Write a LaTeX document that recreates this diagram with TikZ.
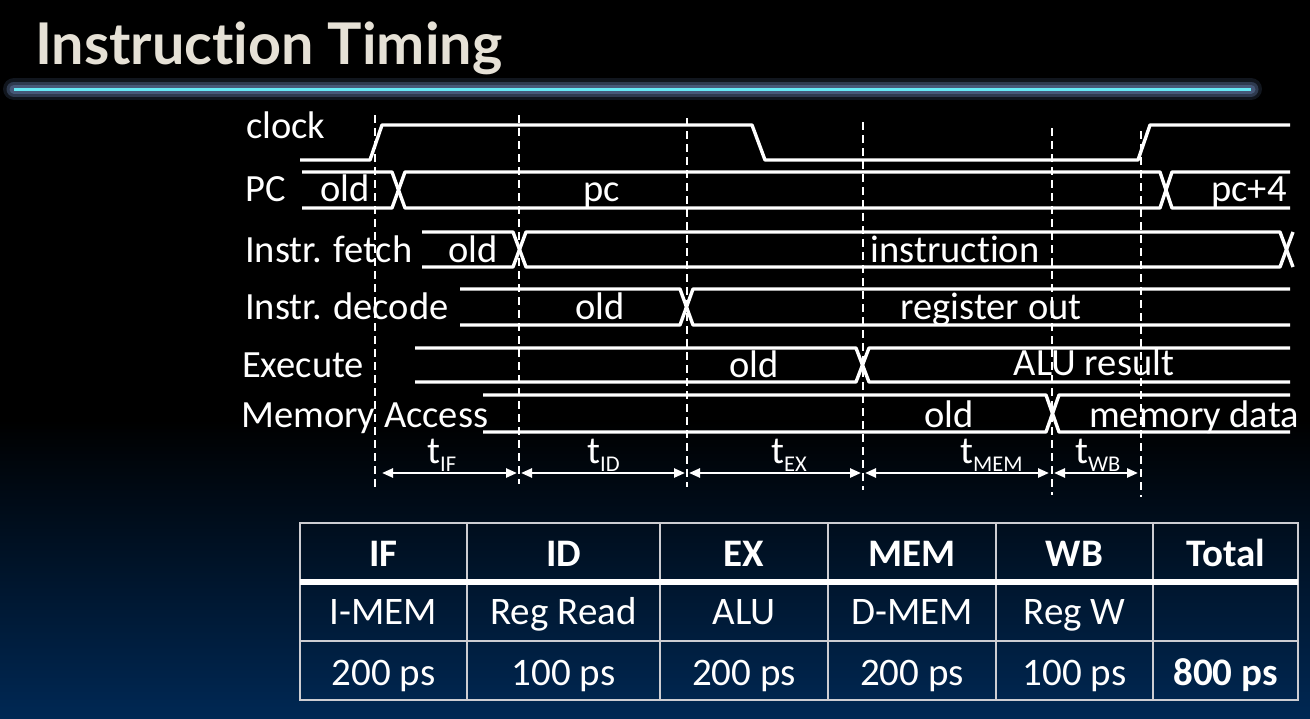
\documentclass[tikz,border=0pt]{standalone}
\usepackage{fontspec}
\setmainfont{Carlito}[Ligatures=NoCommon]
\newfontfamily\titlefont{Lato}[Ligatures=NoCommon]
\usetikzlibrary{arrows.meta}

\definecolor{navybot}{RGB}{0,40,84}
\definecolor{titlecol}{RGB}{230,225,214}
\definecolor{rulecyan}{RGB}{102,232,245}
\definecolor{ruleglow}{RGB}{70,88,120}
\definecolor{gridgray}{RGB}{205,205,210}

\newcommand{\lblfont}{\fontsize{38.5}{41}\selectfont}
\newcommand{\tabfont}{\fontsize{39}{41}\selectfont}
\newcommand{\subfont}{\fontsize{22.5}{24}\selectfont}
\newcommand{\tsub}[1]{t\raisebox{-8.5pt}{\subfont #1}}

\tikzset{
  sig/.style={white, line width=3.4pt, line join=round},
  guide/.style={white, line width=1.8pt, dash pattern=on 8pt off 5pt},
  span/.style={white, line width=2.4pt, {Triangle[length=11pt,width=9pt]}-{Triangle[length=11pt,width=9pt]}},
  lbl/.style={text=white, font=\lblfont, inner sep=0pt, anchor=base west},
  busval/.style={text=white, font=\lblfont, inner sep=0pt, anchor=base},
  tlbl/.style={text=white, font=\lblfont, inner sep=0pt, anchor=base west},
  cellhead/.style={text=white, font=\tabfont\bfseries, inner sep=0pt, anchor=base},
  cellbody/.style={text=white, font=\tabfont, inner sep=0pt, anchor=base},
  gridline/.style={gridgray, line width=1.8pt},
}

\begin{document}
\begin{tikzpicture}[x=1pt,y=-1pt]
\useasboundingbox (0,0) rectangle (1310,718);

% background: black slide fading to navy at the bottom
\fill[black] (0,0) rectangle (1310,718);
\shade[top color=black, bottom color=navybot] (0,420) rectangle (1310,718);

% title and glowing rule
\node[text=titlecol, inner sep=0pt, anchor=north west] (title) at (35,22)
  {\resizebox*{467pt}{53pt}{\titlefont\bfseries Instruction Timing}};
\coordinate (ruleL) at (14,89);
\coordinate (ruleR) at (1251,89);
\draw[ruleglow, line width=22pt, line cap=round, opacity=0.25] (ruleL) -- (ruleR);
\draw[ruleglow, line width=15pt, line cap=round, opacity=0.55] (ruleL) -- (ruleR);
\draw[ruleglow, line width=9pt, line cap=round] (ruleL) -- (ruleR);
\draw[rulecyan, line width=3pt] (ruleL) -- (ruleR);

% signal names
\node[lbl] (nclk) at (246,138) {clock};
\node[lbl] (npc)  at (245,201.5) {PC};
\node[lbl] (nif)  at (245,262) {Instr. fetch};
\node[lbl] (nid)  at (245,319.5) {Instr. decode};
\node[lbl] (nex)  at (242,377.5) {Execute};
\node[lbl] (nmem) at (241,427) {Memory Access};

% clock
\draw[sig] (300,160) -- (370,160) -- (382,125) -- (752,125) -- (765,160)
  -- (1138,160) -- (1150,125) -- (1290,125);

% PC bus
\draw[sig] (302,172) -- (392,172) -- (405,208) -- (1160,208) -- (1172,172) -- (1290,172);
\draw[sig] (302,208) -- (392,208) -- (405,172) -- (1160,172) -- (1172,208) -- (1290,208);
\node[busval] (pcold) at (345,201.5) {old};
\node[busval] (pcnew) at (602,201.5) {pc};
\node[busval] (pcinc) at (1249,201.5) {pc+4};

% instruction fetch bus
\draw[sig] (422,232) -- (513,232) -- (526,267) -- (1280,267) -- (1293,232);
\draw[sig] (422,267) -- (513,267) -- (526,232) -- (1280,232) -- (1293,267);
\node[busval] (ifold) at (473,262) {old};
\node[busval] (ifnew) at (955,262) {instruction};

% instruction decode bus
\draw[sig] (460,289) -- (680,289) -- (693,325) -- (1290,325);
\draw[sig] (460,325) -- (680,325) -- (693,289) -- (1290,289);
\node[busval] (idold) at (600,319.5) {old};
\node[busval] (idnew) at (991,319) {register out};

% execute bus
\draw[sig] (415,348) -- (856,348) -- (869,382) -- (1290,382);
\draw[sig] (415,382) -- (856,382) -- (869,348) -- (1290,348);
\node[busval] (exold) at (754,377.5) {old};
\node[busval] (exnew) at (1094,375.5) {ALU result};

% memory access bus
\draw[sig] (483,395) -- (1046,395) -- (1059,432) -- (1290,432);
\draw[sig] (483,432) -- (1046,432) -- (1059,395) -- (1290,395);
\node[busval] (memold) at (949,427) {old};
\node[busval] (memnew) at (1194,427) {memory data};

% stage boundaries
\coordinate (g1t) at (375,115);  \coordinate (g1b) at (375,487);
\coordinate (g2t) at (519,115);  \coordinate (g2b) at (519,484);
\coordinate (g3t) at (687,118);  \coordinate (g3b) at (687,487);
\coordinate (g4t) at (863,122);  \coordinate (g4b) at (863,490);
\coordinate (g5t) at (1052,128); \coordinate (g5b) at (1052,495);
\coordinate (g6t) at (1141,131); \coordinate (g6b) at (1141,497);
\foreach \g in {1,...,6} \draw[guide] (g\g t) -- (g\g b);

% stage durations
\coordinate (s0) at (382,473);
\coordinate (s1a) at (517,473); \coordinate (s1b) at (521,473);
\coordinate (s2a) at (685,473); \coordinate (s2b) at (689,473);
\coordinate (s3a) at (861,473); \coordinate (s3b) at (865,473);
\coordinate (s4a) at (1049,473); \coordinate (s4b) at (1054,473);
\coordinate (s5) at (1138,473);
\draw[span] (s0) -- (s1a);
\draw[span] (s1b) -- (s2a);
\draw[span] (s2b) -- (s3a);
\draw[span] (s3b) -- (s4a);
\draw[span] (s4b) -- (s5);
\node[tlbl] (tif)  at (427,463) {\tsub{IF}};
\node[tlbl] (tid)  at (587,463) {\tsub{ID}};
\node[tlbl] (tex)  at (771,463) {\tsub{EX}};
\node[tlbl] (tmem) at (960,463) {\tsub{MEM}};
\node[tlbl] (twb)  at (1075,463) {\tsub{WB}};

% table grid
\draw[gridline] (300,523) rectangle (1298,700);
\draw[gridline] (300,641) -- (1298,641);
\foreach \x in {467,660,828,996,1153} \draw[gridline] (\x,523) -- (\x,700);
\draw[white, line width=6pt] (300,581.5) -- (1298,581.5);

% table contents
\foreach \x/\t [count=\i] in {383.5/IF,563.5/ID,744/EX,912/MEM,1074.5/WB,1225.5/Total}
  \node[cellhead] (h\i) at (\x,566.5) {\t};
\foreach \x/\t [count=\i] in {383.5/I-MEM,563.5/Reg Read,744/ALU,912/D-MEM,1074.5/Reg W}
  \node[cellbody] (u\i) at (\x,624.5) {\t};
\foreach \x/\t [count=\i] in {383.5/200 ps,563.5/100 ps,744/200 ps,912/200 ps,1074.5/100 ps}
  \node[cellbody] (c\i) at (\x,685) {\t};
\node[cellhead] (ctot) at (1225.5,685) {800 ps};
\end{tikzpicture}
\end{document}
